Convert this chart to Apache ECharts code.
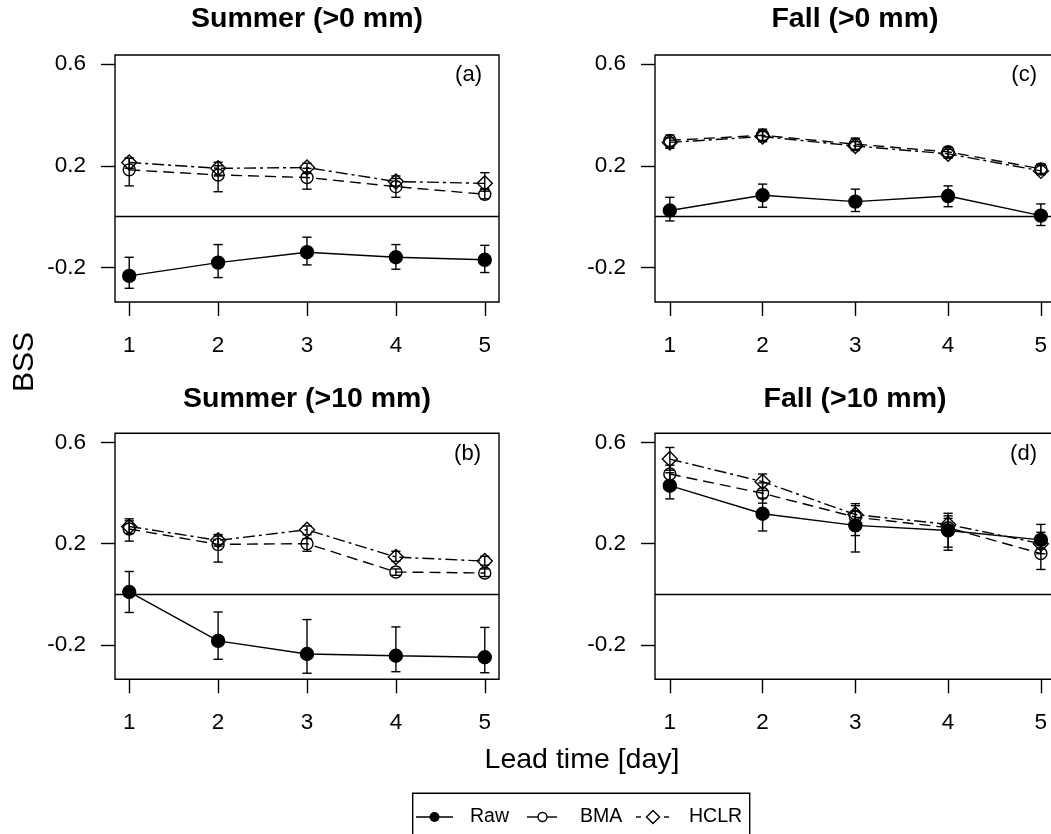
<!DOCTYPE html>
<html>
<head>
<meta charset="utf-8">
<script src="https://cdn.jsdelivr.net/npm/echarts@6/dist/echarts.min.js"></script>
<style>
html,body{margin:0;padding:0;background:#fff;}
#chart{width:1051px;height:834px;}
</style>
</head>
<body>
<div id="chart"></div>
<script>
// ---- data ----
const leadTimes = [1, 2, 3, 4, 5];
const xTickLabels = [1, 2, 3, 4, 5];
const yTickValues = [-0.2, 0.2, 0.6];
const panelTitles = ['Summer (>0 mm)', 'Fall (>0 mm)', 'Summer (>10 mm)', 'Fall (>10 mm)'];
const panelTags = ['(a)', '(c)', '(b)', '(d)'];
const seriesNames = ['Raw', 'BMA', 'HCLR'];

// (a) Summer >0 mm
const rawA = [-0.233, -0.181, -0.140, -0.160, -0.170];
const rawLoA = [-0.282, -0.240, -0.190, -0.207, -0.220];
const rawHiA = [-0.160, -0.110, -0.081, -0.110, -0.113];
const bmaA = [0.184, 0.164, 0.154, 0.118, 0.088];
const bmaLoA = [0.121, 0.098, 0.108, 0.076, 0.070];
const bmaHiA = [0.230, 0.200, 0.190, 0.150, 0.110];
const hclrA = [0.213, 0.190, 0.193, 0.138, 0.131];
const hclrLoA = [0.190, 0.160, 0.170, 0.120, 0.100];
const hclrHiA = [0.230, 0.214, 0.210, 0.160, 0.173];

// (c) Fall >0 mm
const rawC = [0.024, 0.084, 0.059, 0.081, 0.004];
const rawLoC = [-0.017, 0.037, 0.020, 0.039, -0.035];
const rawHiC = [0.076, 0.128, 0.108, 0.121, 0.050];
const bmaC = [0.300, 0.320, 0.285, 0.255, 0.188];
const bmaLoC = [0.275, 0.300, 0.265, 0.235, 0.170];
const bmaHiC = [0.321, 0.344, 0.309, 0.273, 0.207];
const hclrC = [0.292, 0.315, 0.278, 0.247, 0.180];
const hclrLoC = [0.269, 0.295, 0.260, 0.230, 0.165];
const hclrHiC = [0.310, 0.335, 0.295, 0.265, 0.200];

// (b) Summer >10 mm
const rawB = [0.009, -0.184, -0.236, -0.243, -0.249];
const rawLoB = [-0.072, -0.257, -0.312, -0.306, -0.310];
const rawHiB = [0.090, -0.070, -0.100, -0.129, -0.131];
const bmaB = [0.258, 0.197, 0.200, 0.088, 0.084];
const bmaLoB = [0.210, 0.127, 0.170, 0.075, 0.070];
const bmaHiB = [0.290, 0.230, 0.220, 0.100, 0.100];
const hclrB = [0.268, 0.213, 0.255, 0.147, 0.131];
const hclrLoB = [0.240, 0.190, 0.235, 0.130, 0.115];
const hclrHiB = [0.298, 0.236, 0.270, 0.170, 0.150];

// (d) Fall >10 mm
const rawD = [0.429, 0.318, 0.272, 0.252, 0.215];
const rawLoD = [0.377, 0.250, 0.167, 0.174, 0.180];
const rawHiD = [0.480, 0.380, 0.358, 0.320, 0.245];
const bmaD = [0.475, 0.399, 0.305, 0.263, 0.161];
const bmaLoD = [0.440, 0.360, 0.232, 0.186, 0.098];
const bmaHiD = [0.510, 0.440, 0.330, 0.300, 0.220];
const hclrD = [0.534, 0.445, 0.315, 0.276, 0.200];
const hclrLoD = [0.490, 0.410, 0.280, 0.240, 0.160];
const hclrHiD = [0.580, 0.475, 0.350, 0.310, 0.276];

// ---- build ----
const FONT = '"Liberation Sans", Arial, Helvetica, sans-serif';
const panels = [
  {raw: rawA, rawLo: rawLoA, rawHi: rawHiA, bma: bmaA, bmaLo: bmaLoA, bmaHi: bmaHiA, hclr: hclrA, hclrLo: hclrLoA, hclrHi: hclrHiA},
  {raw: rawC, rawLo: rawLoC, rawHi: rawHiC, bma: bmaC, bmaLo: bmaLoC, bmaHi: bmaHiC, hclr: hclrC, hclrLo: hclrLoC, hclrHi: hclrHiC},
  {raw: rawB, rawLo: rawLoB, rawHi: rawHiB, bma: bmaB, bmaLo: bmaLoB, bmaHi: bmaHiB, hclr: hclrB, hclrLo: hclrLoB, hclrHi: hclrHiB},
  {raw: rawD, rawLo: rawLoD, rawHi: rawHiD, bma: bmaD, bmaLo: bmaLoD, bmaHi: bmaHiD, hclr: hclrD, hclrLo: hclrLoD, hclrHi: hclrHiD}
];
const gridBoxes = [
  {left: 115, top: 55, width: 384, height: 247},
  {left: 655, top: 55, width: 400.7, height: 247},
  {left: 115, top: 433.3, width: 384, height: 246},
  {left: 655, top: 433.3, width: 400.7, height: 246}
];
const LW = 1.4;

const grids = gridBoxes.map(b => Object.assign({
  show: true, borderColor: '#000', borderWidth: LW, backgroundColor: 'transparent',
  containLabel: false, outerBoundsMode: 'none'
}, b));

const xAxes = gridBoxes.map((b, i) => ({
  type: 'value', gridIndex: i, min: 0.84, max: 5.16, position: 'bottom',
  splitLine: {show: false},
  axisLine: {show: false, onZero: false},
  axisTick: {show: true, length: 14, inside: false, customValues: leadTimes, lineStyle: {color: '#000', width: LW}},
  axisLabel: {show: true, customValues: xTickLabels, margin: 32, color: '#000', fontSize: 22.5, fontFamily: FONT}
}));
const yAxes = gridBoxes.map((b, i) => ({
  type: 'value', gridIndex: i, min: -0.336, max: 0.636, position: 'left',
  splitLine: {show: false},
  axisLine: {show: false, onZero: false},
  axisTick: {show: true, length: 14, inside: false, customValues: yTickValues, lineStyle: {color: '#000', width: LW}},
  axisLabel: {show: true, customValues: yTickValues, margin: 29, color: '#000', fontSize: 22.5, fontFamily: FONT,
    formatter: v => v.toFixed(1)}
}));

function errRender(params, api) {
  const x = api.value(0);
  const lo = api.coord([x, api.value(1)]);
  const hi = api.coord([x, api.value(2)]);
  const w = 4.6;
  const st = {stroke: '#000', lineWidth: LW, fill: null};
  return {type: 'group', children: [
    {type: 'line', shape: {x1: lo[0], y1: lo[1], x2: hi[0], y2: hi[1]}, style: st},
    {type: 'line', shape: {x1: lo[0] - w, y1: lo[1], x2: lo[0] + w, y2: lo[1]}, style: st},
    {type: 'line', shape: {x1: hi[0] - w, y1: hi[1], x2: hi[0] + w, y2: hi[1]}, style: st}
  ]};
}

const series = [];
panels.forEach((p, i) => {
  const defs = [
    {name: 'BMA', v: p.bma, lo: p.bmaLo, hi: p.bmaHi, symbol: 'circle', size: 12, fill: 'rgba(0,0,0,0)', dash: [11, 6]},
    {name: 'HCLR', v: p.hclr, lo: p.hclrLo, hi: p.hclrHi, symbol: 'diamond', size: [15, 15], fill: 'rgba(0,0,0,0)', dash: [12, 4, 3, 4]},
    {name: 'Raw', v: p.raw, lo: p.rawLo, hi: p.rawHi, symbol: 'circle', size: 13, fill: '#000', dash: 'solid'}
  ];
  defs.forEach(d => {
    const s = {
      name: d.name, type: 'line', xAxisIndex: i, yAxisIndex: i,
      data: leadTimes.map((x, k) => [x, d.v[k]]),
      symbol: d.symbol, symbolSize: d.size, showSymbol: true,
      itemStyle: {color: d.fill, borderColor: '#000', borderWidth: LW},
      lineStyle: {color: '#000', width: LW, type: d.dash},
      z: 3, silent: true
    };
    if (d.name === 'Raw') {
      s.markLine = {silent: true, symbol: 'none', label: {show: false},
        lineStyle: {color: '#000', width: LW, type: 'solid'},
        data: [{yAxis: 0}]};
    }
    series.push(s);
    series.push({
      name: d.name + ' err', type: 'custom', xAxisIndex: i, yAxisIndex: i,
      data: leadTimes.map((x, k) => [x, d.lo[k], d.hi[k]]),
      encode: {x: 0, y: [1, 2]},
      renderItem: errRender, z: 4, silent: true
    });
  });
});

const titleCenters = [307, 855, 307, 855];
const titleTops = [5, 5, 385, 385];
const titles = panelTitles.map((t, i) => ({
  text: t, left: titleCenters[i], top: titleTops[i], textAlign: 'center', padding: 0,
  textStyle: {fontSize: 28.5, fontWeight: 'bold', color: '#000', fontFamily: FONT}
}));

const tagPos = [[482, 75], [1037, 75], [481, 454], [1037, 454]];
const graphics = [];
panelTags.forEach((t, i) => {
  graphics.push({type: 'text', x: tagPos[i][0], y: tagPos[i][1],
    style: {text: t, fill: '#000', font: '22px ' + FONT, textAlign: 'right', textVerticalAlign: 'middle'}});
});
graphics.push({type: 'text', x: 25, y: 362, rotation: Math.PI / 2,
  style: {text: 'BSS', fill: '#000', font: '30px ' + FONT, textAlign: 'center', textVerticalAlign: 'middle'}});
graphics.push({type: 'text', x: 582, y: 760,
  style: {text: 'Lead time [day]', fill: '#000', font: '28.5px ' + FONT, textAlign: 'center', textVerticalAlign: 'middle'}});

// legend (drawn)
const ly = 817;
const lst = {stroke: '#000', lineWidth: LW};
graphics.push({type: 'rect', shape: {x: 412.7, y: 793.3, width: 337, height: 60}, style: {fill: 'none', stroke: '#000', lineWidth: LW}});
graphics.push({type: 'line', shape: {x1: 416, y1: ly, x2: 453, y2: ly}, style: lst});
graphics.push({type: 'circle', shape: {cx: 434.5, cy: ly, r: 5}, style: {fill: '#000'}});
graphics.push({type: 'text', x: 470, y: ly, style: {text: seriesNames[0], fill: '#000', font: '19.5px ' + FONT, textVerticalAlign: 'middle'}});
graphics.push({type: 'line', shape: {x1: 527, y1: ly, x2: 538, y2: ly}, style: lst});
graphics.push({type: 'line', shape: {x1: 547, y1: ly, x2: 557, y2: ly}, style: lst});
graphics.push({type: 'circle', shape: {cx: 542.5, cy: ly, r: 4.5}, style: {fill: 'none', stroke: '#000', lineWidth: LW}});
graphics.push({type: 'text', x: 580, y: ly, style: {text: seriesNames[1], fill: '#000', font: '19.5px ' + FONT, textVerticalAlign: 'middle'}});
graphics.push({type: 'line', shape: {x1: 636, y1: ly, x2: 641, y2: ly}, style: lst});
graphics.push({type: 'line', shape: {x1: 664, y1: ly, x2: 669, y2: ly}, style: lst});
graphics.push({type: 'polygon', shape: {points: [[646.5, ly], [653, ly - 6.5], [659.5, ly], [653, ly + 6.5]]}, style: {fill: 'none', stroke: '#000', lineWidth: LW}});
graphics.push({type: 'text', x: 689, y: ly, style: {text: seriesNames[2], fill: '#000', font: '19.5px ' + FONT, textVerticalAlign: 'middle'}});

const chart = echarts.init(document.getElementById('chart'), null, {renderer: 'canvas'});
chart.setOption({
  animation: false,
  backgroundColor: '#fff',
  title: titles,
  grid: grids,
  xAxis: xAxes,
  yAxis: yAxes,
  series: series,
  graphic: graphics
});
</script>
</body>
</html>
